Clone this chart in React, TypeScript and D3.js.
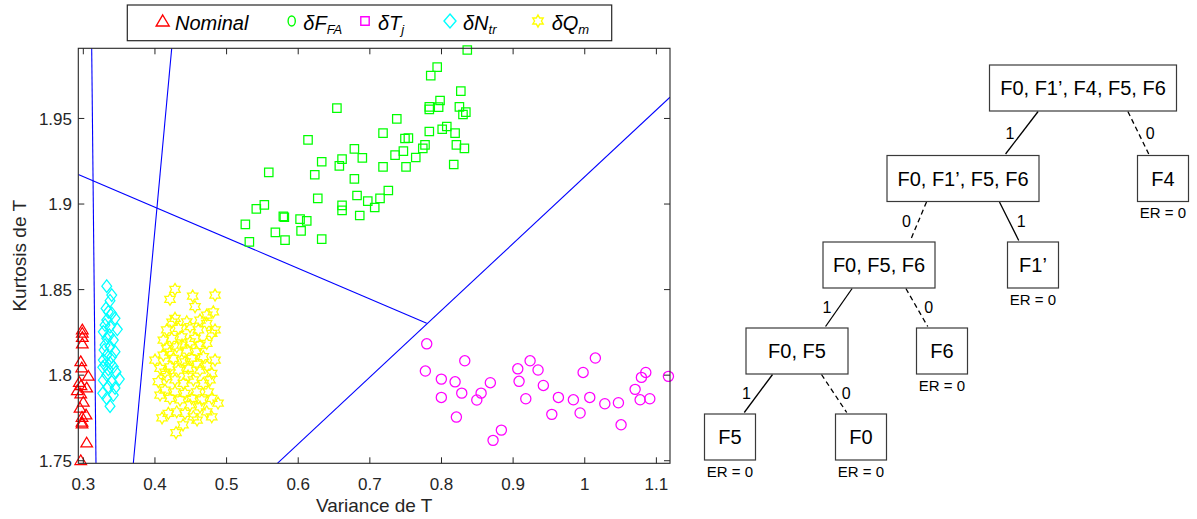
import React from 'react';
import * as d3 from 'd3';

// ---------- scatter data (Variance de T, Kurtosis de T) ----------
const X_TICKS = [0.3, 0.4, 0.5, 0.6, 0.7, 0.8, 0.9, 1, 1.1];
const Y_TICKS = [1.75, 1.8, 1.85, 1.9, 1.95];
const X_DOMAIN: [number, number] = [0.293, 1.119];
const Y_DOMAIN: [number, number] = [1.7485, 1.991];

const NOMINAL: [number, number][] = [
  [0.2986, 1.8268], [0.2986, 1.8248], [0.2986, 1.8224], [0.2986, 1.8186], [0.2964, 1.8082],
  [0.2978, 1.8046], [0.307, 1.7997], [0.2944, 1.7961], [0.2968, 1.7942], [0.3047, 1.7929],
  [0.2916, 1.7913], [0.2964, 1.7894], [0.3, 1.7845], [0.2954, 1.781], [0.3038, 1.7771],
  [0.2982, 1.7757], [0.2982, 1.7728], [0.2982, 1.7718], [0.3047, 1.7607], [0.2964, 1.7504],
];

const D_FFA: [number, number][] = [
  [0.836, 1.99], [0.794, 1.98], [0.785, 1.975], [0.827, 1.966], [0.798, 1.9605],
  [0.783, 1.9568], [0.783, 1.9553], [0.796, 1.9566], [0.825, 1.9568], [0.834, 1.9537],
  [0.83, 1.9523], [0.654, 1.956], [0.7376, 1.9498], [0.7184, 1.9414], [0.783, 1.9424],
  [0.801, 1.9437], [0.8074, 1.9453], [0.819, 1.9414], [0.6137, 1.9375], [0.749, 1.9383],
  [0.7538, 1.9385], [0.777, 1.9346], [0.7739, 1.9325], [0.8208, 1.9346], [0.832, 1.9325],
  [0.6784, 1.9322], [0.6895, 1.927], [0.7468, 1.9309], [0.7352, 1.9286], [0.7641, 1.9272],
  [0.6612, 1.9262], [0.6328, 1.9247], [0.6574, 1.9223], [0.7184, 1.9217], [0.7505, 1.9217],
  [0.8171, 1.9231], [0.5589, 1.9185], [0.6231, 1.9171], [0.6784, 1.9147], [0.7258, 1.9079],
  [0.7142, 1.9033], [0.6821, 1.905], [0.6971, 1.9017], [0.7068, 1.898], [0.6273, 1.9033],
  [0.6612, 1.8992], [0.6612, 1.8963], [0.6859, 1.8933], [0.5527, 1.8995], [0.5415, 1.8972],
  [0.5262, 1.8881], [0.5792, 1.8928], [0.5806, 1.8923], [0.6026, 1.8912], [0.6119, 1.8902],
  [0.604, 1.8843], [0.5681, 1.8834], [0.5816, 1.8789], [0.5318, 1.8779], [0.6328, 1.8795],
];

const D_TJ: [number, number][] = [
  [0.7794, 1.8183], [0.7775, 1.8024], [0.8325, 1.8084], [0.7998, 1.7977], [0.819, 1.7961],
  [0.7998, 1.787], [0.8283, 1.7895], [0.8553, 1.7895], [0.8493, 1.7855], [0.8682, 1.7956],
  [0.8208, 1.7755], [0.8836, 1.7679], [0.872, 1.7619], [0.9065, 1.8037], [0.9237, 1.8084],
  [0.9348, 1.803], [0.9083, 1.7964], [0.9422, 1.794], [0.9177, 1.7862], [0.954, 1.7771],
  [0.9632, 1.787], [0.9841, 1.7856], [0.9935, 1.7779], [0.9977, 1.8016], [1.0148, 1.81],
  [1.007, 1.787], [1.028, 1.7833], [1.047, 1.7839], [1.0507, 1.771], [1.0703, 1.7917],
  [1.0791, 1.7987], [1.0852, 1.8016], [1.0773, 1.7856], [1.0908, 1.7862], [1.1168, 1.7993],
];

const D_NTR: [number, number][] = [
  [0.3327, 1.852], [0.3397, 1.8468], [0.3373, 1.8435], [0.3317, 1.839], [0.3349, 1.837],
  [0.3397, 1.8361], [0.3443, 1.8332], [0.3327, 1.8322], [0.3303, 1.8293], [0.3373, 1.8283],
  [0.3475, 1.8268], [0.3279, 1.8253], [0.3363, 1.8234], [0.3327, 1.8215], [0.3419, 1.8205],
  [0.3303, 1.8176], [0.3373, 1.8166], [0.3443, 1.8137], [0.3327, 1.8117], [0.3397, 1.8107],
  [0.3279, 1.8088], [0.3373, 1.8072], [0.3271, 1.8046], [0.3349, 1.8034], [0.3419, 1.8049],
  [0.3327, 1.8001], [0.3503, 1.7977], [0.3279, 1.7971], [0.3397, 1.7961], [0.3349, 1.7932],
  [0.3271, 1.7894], [0.3419, 1.7884], [0.3327, 1.7864], [0.3373, 1.7819], [0.3289, 1.8147],
  [0.3457, 1.8018], [0.3303, 1.8059], [0.3443, 1.7925],
];

const D_QM: [number, number][] = [
  [0.428, 1.8501], [0.421, 1.8443], [0.4527, 1.8462], [0.4839, 1.8468], [0.456, 1.84],
  [0.4723, 1.8351], [0.4815, 1.837], [0.428, 1.8332], [0.4444, 1.8312], [0.4629, 1.8322],
  [0.4723, 1.8303], [0.4164, 1.8264], [0.4326, 1.8274], [0.449, 1.8283], [0.4606, 1.8264],
  [0.4793, 1.8244], [0.4117, 1.8205], [0.4234, 1.8215], [0.4374, 1.8224], [0.456, 1.8215],
  [0.4723, 1.8186], [0.4164, 1.8157], [0.4304, 1.8166], [0.4444, 1.8147], [0.4583, 1.8137],
  [0.4675, 1.8108], [0.4839, 1.8088], [0.4117, 1.8117], [0.4257, 1.8098], [0.4374, 1.8088],
  [0.4513, 1.8098], [0.4071, 1.804], [0.421, 1.8049], [0.4326, 1.803], [0.4466, 1.804],
  [0.4629, 1.803], [0.4793, 1.8011], [0.4047, 1.7962], [0.4164, 1.7991], [0.428, 1.7972],
  [0.4396, 1.7952], [0.4536, 1.7972], [0.4675, 1.7952], [0.4141, 1.7913], [0.428, 1.7903],
  [0.442, 1.7894], [0.4583, 1.7903], [0.4745, 1.7903], [0.421, 1.7864], [0.435, 1.7855],
  [0.4513, 1.7864], [0.4653, 1.7855], [0.4793, 1.7864], [0.4187, 1.7777], [0.4304, 1.7786],
  [0.442, 1.7777], [0.4536, 1.7757], [0.4723, 1.7786], [0.4793, 1.7757], [0.4294, 1.7664],
  [0.4238, 1.831], [0.4378, 1.8176], [0.449, 1.8194], [0.4629, 1.8176], [0.421, 1.8135],
  [0.442, 1.8077], [0.4588, 1.8065], [0.4727, 1.8053], [0.4141, 1.8018], [0.4462, 1.7995],
  [0.4769, 1.7972], [0.4071, 1.7884], [0.449, 1.7826], [0.4629, 1.7814], [0.4881, 1.7837],
  [0.4099, 1.775], [0.4588, 1.7738], [0.4392, 1.7709], [0.4839, 1.8264], [0.4001, 1.8088],
];

// decision boundaries (blue lines), data units
const BOUNDARIES: [number, number, number, number][] = [
  [0.3117, 1.991, 0.3177, 1.7485],
  [0.4234, 1.991, 0.3698, 1.7485],
  [0.293, 1.9173, 0.7794, 1.8303],
  [0.5709, 1.7485, 1.119, 1.9624],
];

const LEGEND_ITEMS = [
  { key: 'nominal', main: 'Nominal', sub: '' },
  { key: 'ffa', main: 'δF', sub: 'FA' },
  { key: 'tj', main: 'δT', sub: 'j' },
  { key: 'ntr', main: 'δN', sub: 'tr' },
  { key: 'qm', main: 'δQ', sub: 'm' },
];

// ---------- decision tree ----------
const TREE_NODES = [
  { id: 'a', label: 'F0, F1’, F4, F5, F6', parent: '', branch: '', er: null as number | null },
  { id: 'b', label: 'F0, F1’, F5, F6', parent: 'a', branch: '1', er: null as number | null },
  { id: 'F4', label: 'F4', parent: 'a', branch: '0', er: 0 },
  { id: 'c', label: 'F0, F5, F6', parent: 'b', branch: '0', er: null as number | null },
  { id: 'F1', label: 'F1’', parent: 'b', branch: '1', er: 0 },
  { id: 'd', label: 'F0, F5', parent: 'c', branch: '1', er: null as number | null },
  { id: 'F6', label: 'F6', parent: 'c', branch: '0', er: 0 },
  { id: 'F5', label: 'F5', parent: 'd', branch: '1', er: 0 },
  { id: 'F0', label: 'F0', parent: 'd', branch: '0', er: 0 },
];

// ---------- layout / style ----------
const W = 1197;
const H = 519;
const PLOT = { left: 78.3, right: 670, top: 48.3, bottom: 463.3 };
const AXIS_COLOR = '#262626';
const FONT = '"Liberation Sans", Arial, Helvetica, sans-serif';
const COLORS: Record<string, string> = {
  nominal: '#ff0000', ffa: '#00ff00', tj: '#ff00ff', ntr: '#00ffff', qm: '#ffff00',
};
const LEGEND_BOX = { x: 127.3, y: 5, w: 484.4, h: 35.7 };
const LEGEND_MARKER_X = [162.7, 291.7, 365, 450, 538];
const LEGEND_TEXT_X = [175, 303.3, 378, 463, 551.7];

const TREE_ROOT_X = 1083;
const TREE_LEVEL_Y = [88, 178.5, 265, 351, 437];
const TREE_CHILD_DX = [[-120, 80], [-84, 70], [-82, 63], [-67, 64]];
const TREE_BOX_W: Record<string, number> = { a: 187, b: 152, c: 112, d: 102 };
const LEAF_W = 51;
const BOX_H = 46;

function hexagram(R: number) {
  const pts = d3.range(12).map((k) => {
    const a = -Math.PI / 2 + (k * Math.PI) / 6;
    const r = k % 2 === 0 ? R : R / Math.sqrt(3);
    return [r * Math.cos(a), r * Math.sin(a)];
  });
  return 'M' + pts.map((p) => p[0].toFixed(2) + ',' + p[1].toFixed(2)).join('L') + 'Z';
}
const TRI = 'M0,-5.2L5.8,4.5L-5.8,4.5Z';
const DIAMOND = 'M0,-6.3L4.9,0L0,6.3L-4.9,0Z';
const SQUARE = 'M-4.2,-4.2L4.2,-4.2L4.2,4.2L-4.2,4.2Z';
const HEX = hexagram(6);

function Marker({ kind, cx, cy }: { kind: string; cx: number; cy: number }) {
  const c = COLORS[kind];
  const common = { fill: 'none', stroke: c, strokeWidth: 1.25 };
  if (kind === 'tj') return <circle cx={cx} cy={cy} r={5.1} {...common} />;
  const d = kind === 'nominal' ? TRI : kind === 'ffa' ? SQUARE : kind === 'ntr' ? DIAMOND : HEX;
  return <path d={d} transform={`translate(${cx},${cy})`} {...common} />;
}

function LegendMarker({ kind, cx, cy }: { kind: string; cx: number; cy: number }) {
  const c = COLORS[kind];
  const common = { fill: 'none', stroke: c, strokeWidth: 1.4 };
  if (kind === 'ffa') return <ellipse cx={cx} cy={cy} rx={3.6} ry={5} {...common} />;
  if (kind === 'tj') return <path d={SQUARE} transform={`translate(${cx},${cy})`} {...common} />;
  if (kind === 'nominal') return <path d={'M0,-6L6.5,5L-6.5,5Z'} transform={`translate(${cx},${cy})`} {...common} />;
  if (kind === 'ntr') return <path d={'M0,-7L6,0L0,7L-6,0Z'} transform={`translate(${cx},${cy})`} {...common} />;
  return <path d={hexagram(6)} transform={`translate(${cx},${cy})`} {...common} />;
}

export default function App() {
  const x = d3.scaleLinear().domain(X_DOMAIN).range([PLOT.left, PLOT.right]);
  const y = d3.scaleLinear().domain(Y_DOMAIN).range([PLOT.bottom, PLOT.top]);

  const series: [string, [number, number][]][] = [
    ['nominal', NOMINAL], ['ffa', D_FFA], ['tj', D_TJ], ['ntr', D_NTR], ['qm', D_QM],
  ];

  // tree layout
  const root = d3.stratify<typeof TREE_NODES[number]>()
    .id((d) => d.id)
    .parentId((d) => (d.parent ? d.parent : null))(TREE_NODES);
  const pos = new Map<string, { cx: number; cy: number; w: number }>();
  const place = (node: d3.HierarchyNode<typeof TREE_NODES[number]>, cx: number) => {
    const leaf = !node.children;
    pos.set(node.data.id, { cx, cy: TREE_LEVEL_Y[node.depth], w: leaf ? LEAF_W : TREE_BOX_W[node.data.id] });
    (node.children || []).forEach((ch, i) => place(ch, cx + TREE_CHILD_DX[node.depth][i]));
  };
  place(root, TREE_ROOT_X);

  const edges = root.links().map((l) => {
    const p = pos.get(l.source.data.id)!;
    const c = pos.get(l.target.data.id)!;
    const dir = c.cx < p.cx ? -1 : 1;
    const x1 = p.cx + dir * 0.24 * p.w;
    const y1 = p.cy + BOX_H / 2 + 0.5;
    const x2 = c.cx - dir * 0.28 * c.w;
    const y2 = c.cy - BOX_H / 2 - 1.5;
    return { x1, y1, x2, y2, dir, branch: l.target.data.branch, id: l.target.data.id };
  });

  return (
    <svg width={W} height={H} style={{ position: 'absolute', left: 0, top: 0, background: '#fff' }}
      fontFamily={FONT}>
      <rect x={0} y={0} width={W} height={H} fill="#fff" />
      <defs>
        <clipPath id="plotclip">
          <rect x={PLOT.left} y={PLOT.top} width={PLOT.right - PLOT.left} height={PLOT.bottom - PLOT.top} />
        </clipPath>
      </defs>

      {/* decision boundaries */}
      <g clipPath="url(#plotclip)">
        {BOUNDARIES.map((b, i) => (
          <line key={i} x1={x(b[0])} y1={y(b[1])} x2={x(b[2])} y2={y(b[3])} stroke="#0000ff" strokeWidth={1.1} />
        ))}
      </g>

      {/* scatter */}
      {series.map(([k, pts]) => (
        <g key={k}>
          {pts.map((p, i) => <Marker key={i} kind={k} cx={x(p[0])} cy={y(p[1])} />)}
        </g>
      ))}

      {/* axes box */}
      <rect x={PLOT.left} y={PLOT.top} width={PLOT.right - PLOT.left} height={PLOT.bottom - PLOT.top}
        fill="none" stroke={AXIS_COLOR} strokeWidth={1.1} />
      {X_TICKS.map((t) => (
        <g key={'x' + t}>
          <line x1={x(t)} x2={x(t)} y1={PLOT.bottom} y2={PLOT.bottom - 6} stroke={AXIS_COLOR} strokeWidth={1} />
          <line x1={x(t)} x2={x(t)} y1={PLOT.top} y2={PLOT.top + 6} stroke={AXIS_COLOR} strokeWidth={1} />
          <text x={x(t)} y={489.5} textAnchor="middle" fontSize={17} fill={AXIS_COLOR}>{String(t)}</text>
        </g>
      ))}
      {Y_TICKS.map((t) => (
        <g key={'y' + t}>
          <line x1={PLOT.left} x2={PLOT.left + 6} y1={y(t)} y2={y(t)} stroke={AXIS_COLOR} strokeWidth={1} />
          <line x1={PLOT.right} x2={PLOT.right - 6} y1={y(t)} y2={y(t)} stroke={AXIS_COLOR} strokeWidth={1} />
          <text x={72} y={y(t)} dy="0.36em" textAnchor="end" fontSize={17} fill={AXIS_COLOR}>{String(t)}</text>
        </g>
      ))}
      <text x={(PLOT.left + PLOT.right) / 2} y={512} textAnchor="middle" fontSize={19} fill={AXIS_COLOR}>Variance de T</text>
      <text transform={`translate(26,${(PLOT.top + PLOT.bottom) / 2}) rotate(-90)`} textAnchor="middle" fontSize={19}
        fill={AXIS_COLOR}>Kurtosis de T</text>

      {/* legend */}
      <rect x={LEGEND_BOX.x} y={LEGEND_BOX.y} width={LEGEND_BOX.w} height={LEGEND_BOX.h} fill="#fff"
        stroke={AXIS_COLOR} strokeWidth={1.2} />
      {LEGEND_ITEMS.map((it, i) => (
        <g key={it.key}>
          <LegendMarker kind={it.key} cx={LEGEND_MARKER_X[i]} cy={21} />
          <text x={LEGEND_TEXT_X[i]} y={29.5} fontSize={20} fontStyle="italic" fill="#000">
            {it.main}
            {it.sub ? <tspan fontSize={13} dy={4}>{it.sub}</tspan> : null}
          </text>
        </g>
      ))}

      {/* tree edges */}
      {edges.map((e) => (
        <g key={'e' + e.id}>
          <line x1={e.x1} y1={e.y1} x2={e.x2} y2={e.y2} stroke="#000" strokeWidth={1.3}
            strokeDasharray={e.branch === '0' ? '5,3.5' : undefined} />
          <text x={(e.x1 + e.x2) / 2 + e.dir * 12} y={(e.y1 + e.y2) / 2} dy="0.36em" textAnchor="middle"
            fontSize={16} fill="#000">{e.branch}</text>
        </g>
      ))}

      {/* tree nodes */}
      {TREE_NODES.map((n) => {
        const p = pos.get(n.id)!;
        return (
          <g key={n.id}>
            <rect x={p.cx - p.w / 2} y={p.cy - BOX_H / 2} width={p.w} height={BOX_H} fill="#fff"
              stroke="#3a3a3a" strokeWidth={1.2} />
            <text x={p.cx} y={p.cy} dy="0.36em" textAnchor="middle" fontSize={20} fill="#000">{n.label}</text>
            {n.er !== null ? (
              <text x={p.cx} y={p.cy + BOX_H / 2 + 11.5} dy="0.36em" textAnchor="middle" fontSize={15}
                fill="#000">{`ER = ${n.er}`}</text>
            ) : null}
          </g>
        );
      })}
    </svg>
  );
}
